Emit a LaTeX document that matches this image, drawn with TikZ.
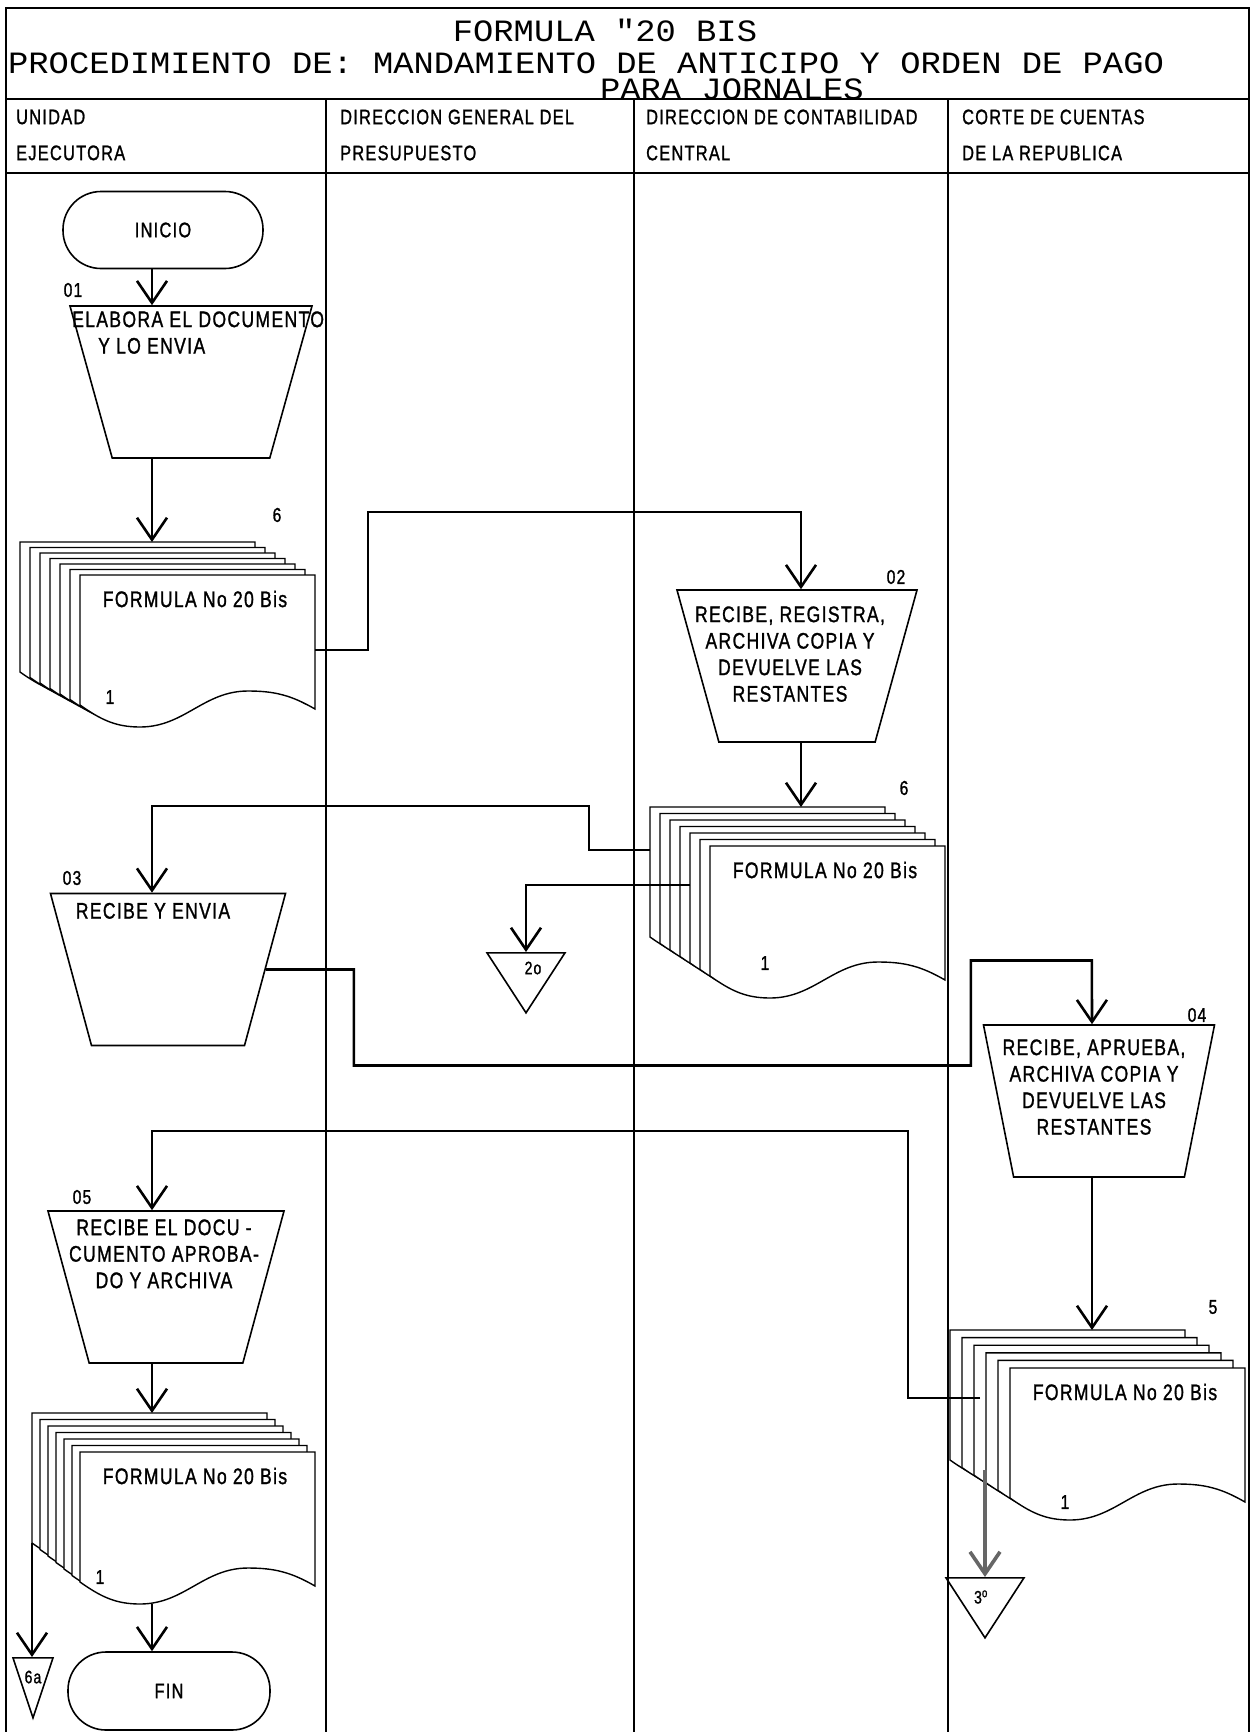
\documentclass[tikz,border=0pt]{standalone}
\usepackage{fontspec}
\usepackage{tikz}
\usetikzlibrary{arrows.meta,shapes.geometric}
\newfontfamily\lettering[FakeStretch=0.78,LetterSpace=6,FakeBold=1.2]{Liberation Sans}
\newfontfamily\typewriter[FakeStretch=1.09]{Liberation Mono}

\begin{document}
\begin{tikzpicture}[x=1pt, y=-1pt,
    frame/.style={line width=2.6pt},
    lane/.style={line width=2.2pt},
    hdr/.style={anchor=west, align=left, inner sep=0pt, font=\lettering\fontsize{21}{36}\selectfont},
    ttl/.style={inner sep=0pt, font=\typewriter\fontsize{31}{26}\selectfont},
    term/.style={draw, line width=1.6pt, rounded corners=38pt, minimum width=200pt, minimum height=77pt, inner sep=0pt, font=\lettering\fontsize{21}{24}\selectfont},
    proc/.style={draw, trapezium, trapezium stretches=true, shape border rotate=180, trapezium left angle=75, trapezium right angle=75, minimum width=238pt, minimum height=152pt, inner sep=3pt, line width=1.6pt},
    ptxt/.style={align=center, inner sep=0pt, font=\lettering\fontsize{22.5}{26.5}\selectfont},
    conn/.style={draw, isosceles triangle, isosceles triangle stretches=true, shape border rotate=-90, minimum width=78pt, minimum height=60pt, inner sep=3pt, line width=1.6pt, anchor=north},
    ctxt/.style={inner sep=0pt, font=\lettering\fontsize{18}{20}\selectfont},
    num/.style={inner sep=0pt, font=\lettering\fontsize{20}{22}\selectfont},
    sheet/.style={draw, fill=white, line width=1.4pt},
    doclbl/.style={inner sep=0pt, font=\lettering\fontsize{22.5}{24}\selectfont},
    flow/.style={line width=2.6pt, -{Straight Barb[length=22pt, width=30pt]}},
    pics/docstack/.style args={#1/#2/#3}{code={
        \foreach \k in {#1,...,0}
          \draw[sheet, shift={(-#2*\k,-#3*\k)}] (0,130) |- (235,0) -- (235,134)
            to[out=150,in=0] (168,116) to[out=180,in=0] (60,152)
            to[out=180,in=-35] (0,130) -- cycle;
        \coordinate (-top) at (-#2*#1,-#3*#1);
        \coordinate (-base) at (-#2*#1,130-#3*#1);
        \coordinate (-east) at (235,75);
        \coordinate (-wave) at (60,152);
        \node[doclbl] (-label) at (115,24) {FORMULA No 20 Bis};
    }}
]
\useasboundingbox (0,0) rectangle (1253,1732);

\draw[frame] (6,1732) |- (1249,8) -- (1249,1732);
\draw[frame] (6,99) -- (1249,99);
\draw[frame] (6,173) -- (1249,173);
\foreach \lx in {326,634,948}
  \draw[lane] (\lx,99) -- (\lx,1732);

\node[ttl] (title) at (605,30) {FORMULA "20 BIS};
\node[ttl, anchor=north west, align=left] (subtitle) at (8,53) {PROCEDIMIENTO DE: MANDAMIENTO DE ANTICIPO Y ORDEN DE PAGO\\\hspace*{592pt}PARA JORNALES};

\node[hdr] (laneA) at (16,135) {UNIDAD\\EJECUTORA};
\node[hdr] (laneB) at (340,135) {DIRECCION GENERAL DEL\\PRESUPUESTO};
\node[hdr] (laneC) at (646,135) {DIRECCION DE CONTABILIDAD\\CENTRAL};
\node[hdr] (laneD) at (962,135) {CORTE DE CUENTAS\\DE LA REPUBLICA};

\node[term] (inicio) at (163,230) {INICIO};
\node[proc, minimum width=242pt] (t01) at (191,382) {};
\node[ptxt, anchor=north west, align=left] (t01txt) at ([xshift=-119pt,yshift=-6pt]t01.north) {ELABORA EL DOCUMENTO\\\hspace*{26pt}Y LO ENVIA};
\node[num] (n01) at (73,290) {01};

\pic (docA) at (80,575) {docstack=6/10/5.5};
\node[num] (qA) at (277,515) {6};
\node[num] (oneA) at (110,697) {1};

\node[proc, minimum width=240pt] (t02) at (797,666) {};
\node[ptxt, anchor=north] (t02txt) at ([xshift=-7pt,yshift=-17pt]t02.north) {RECIBE, REGISTRA,\\ARCHIVA COPIA Y\\DEVUELVE LAS\\RESTANTES};
\node[num] (n02) at (896,577) {02};

\pic (docB) at (710,846) {docstack=6/10/6.5};
\node[num] (qB) at (904,788) {6};
\node[num] (oneB) at (765,963) {1};

\node[conn] (c2) at (526,952) {};
\node[ctxt] (c2t) at (533,968) {2o};

\node[proc, minimum width=235pt] (t03) at (168,969.5) {};
\node[ptxt, anchor=north] (t03txt) at ([xshift=-15pt,yshift=-10pt]t03.north) {RECIBE Y ENVIA};
\node[num] (n03) at (72,878) {03};

\node[proc, minimum width=231pt, trapezium left angle=80, trapezium right angle=80] (t04) at (1099,1101) {};
\node[ptxt, anchor=north] (t04txt) at ([xshift=-5pt,yshift=-15pt]t04.north) {RECIBE, APRUEBA,\\ARCHIVA COPIA Y\\DEVUELVE LAS\\RESTANTES};
\node[num] (n04) at (1197,1015) {04};

\pic (docC) at (1010,1368) {docstack=5/12/7.6};
\node[num] (qC) at (1213,1307) {5};
\node[num] (oneC) at (1065,1502) {1};

\node[conn] (c3) at (985,1577) {};
\node[ctxt] (c3t) at (981,1597) {3\textsuperscript{o}};

\node[proc, minimum width=236pt] (t05) at (166,1287) {};
\node[ptxt, anchor=north] (t05txt) at ([xshift=-2pt,yshift=-9pt]t05.north) {RECIBE EL DOCU -\\CUMENTO APROBA-\\DO Y ARCHIVA};
\node[num] (n05) at (82,1197) {05};

\pic (docD) at (80,1452) {docstack=6/8/6.5};
\node[num] (oneD) at (100,1577) {1};

\node[term, minimum width=202pt, minimum height=78pt] (fin) at (169,1691) {FIN};
\node[conn, minimum width=40pt] (c6a) at (33,1657) {};
\node[ctxt] (c6at) at (33,1677) {6a};

\coordinate (axA) at (152,0);
\coordinate (axC) at (801,0);
\coordinate (axD) at (1092,0);

\draw[flow] (axA |- inicio.south) -- (axA |- t01.north);
\draw[flow] (axA |- t01.south) -- (axA |- docA-top);
\draw[flow] (docA-east) -- ++(53,0) |- ++(433,-138) -- (axC |- t02.north);
\draw[flow] (axC |- t02.south) -- (axC |- docB-top);
\draw[flow] ([yshift=-43pt]docB-top) -- ++(-61,0) |- ++(-437,-44) -- (axA |- t03.north);
\draw[flow] ([shift={(40pt,-78pt)}]docB-top) -| (c2.north);
\draw[flow] (t03.east) -- ++(88,0) |- ++(617,96) |- ++(121,-105) -- (axD |- t04.north);
\draw[flow] (axD |- t04.south) -- (axD |- docC-top);
\draw[flow] ([shift={(30pt,-68pt)}]docC-top) -- ++(-72,0) |- ++(-756,-267) -- (axA |- t05.north);
\draw[flow, line width=3.6pt, draw=black!60] ([shift={(35pt,-140pt)}]docC-top) -- (c3.north);
\draw[flow] (axA |- t05.south) -- (axA |- docD-top);
\draw[flow] (axA |- docD-wave) -- (axA |- fin.north);
\draw[flow] (docD-base) -- (docD-base |- c6a.north);

\end{tikzpicture}
\end{document}
